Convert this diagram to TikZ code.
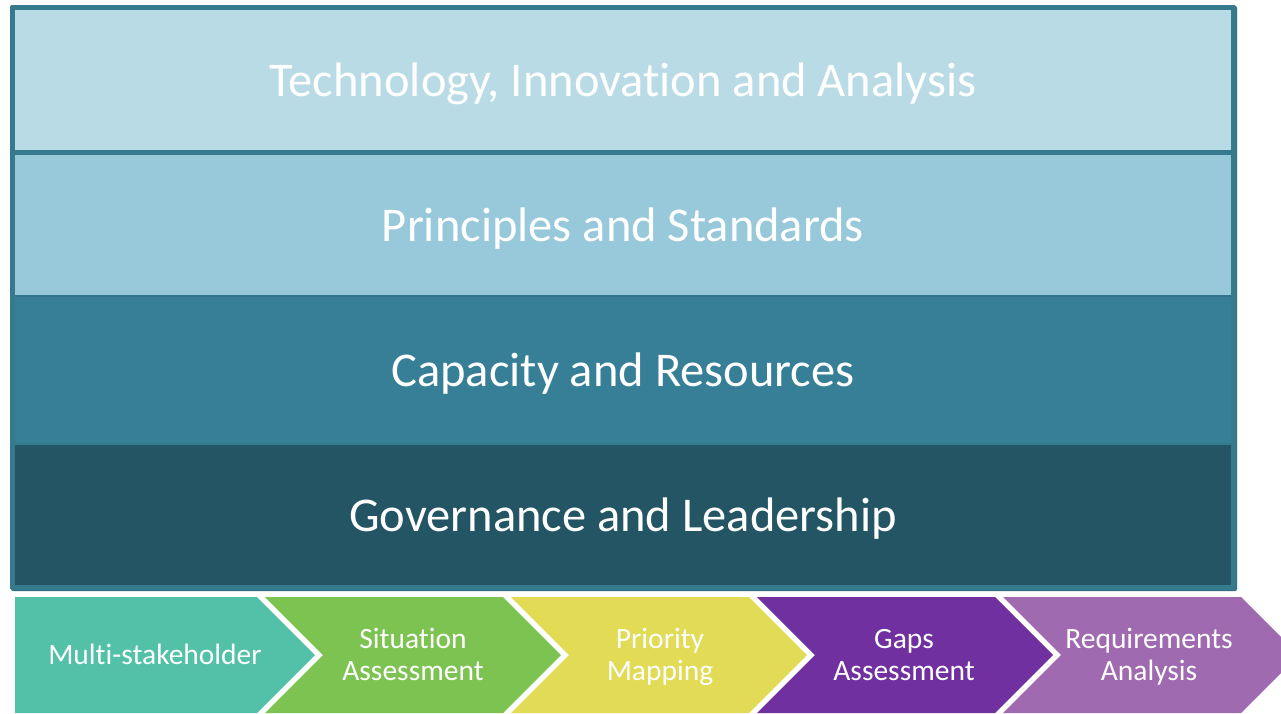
\documentclass[tikz,border=0pt]{standalone}
\usepackage{fontspec}
\setmainfont[Ligatures=NoCommon]{Carlito}
\definecolor{frame}{HTML}{367A8D}
\definecolor{bandA}{HTML}{B9DBE6}
\definecolor{bandB}{HTML}{97C9DA}
\definecolor{bandC}{HTML}{367F97}
\definecolor{bandD}{HTML}{245565}
\definecolor{chA}{HTML}{52C1A8}
\definecolor{chB}{HTML}{7DC352}
\definecolor{chC}{HTML}{E1DB55}
\definecolor{chD}{HTML}{7030A0}
\definecolor{chE}{HTML}{A06AB0}
\tikzset{
  bandtext/.style={text=white,font=\fontsize{48.5}{54}\selectfont,inner sep=0pt,anchor=base},
  chevtext/.style={text=white,font=\fontsize{29.5}{32}\selectfont,align=center,inner sep=0pt,anchor=base},
}
\begin{document}
\begin{tikzpicture}[x=1pt,y=-1pt]
\useasboundingbox (0,0) rectangle (1281,713);
\fill[white] (0,0) rectangle (1281,713);
% frame
\fill[frame!90!black,rounded corners=2pt] (11,6) rectangle (1237,591);
\fill[frame,rounded corners=2pt] (10,5) rectangle (1236,590);
\fill[bandA] (15,10) rectangle (1231,150);
\fill[bandB] (15,155) rectangle (1231,295);
\fill[bandC!92!black] (15,295) rectangle (1231,297);
\fill[bandC] (15,297) rectangle (1231,443);
\fill[bandD] (15,445) rectangle (1231,585);
\node[bandtext] (t1) at (623,96) {Technology, Innovation and Analysis};
\node[bandtext] (t2) at (623,241) {Principles and Standards};
\node[bandtext] (t3) at (623,386) {Capacity and Resources};
\node[bandtext] (t4) at (623,531) {Governance and Leadership};
% chevrons
\fill[chA] (15,597) -- (257,597) -- (315,655) -- (257,713) -- (15,713) -- cycle;
\fill[chB] (265,597) -- (503,597) -- (561,655) -- (503,713) -- (265,713) -- (323,655) -- cycle;
\fill[chC] (511,597) -- (749,597) -- (807,655) -- (749,713) -- (511,713) -- (569,655) -- cycle;
\fill[chD] (757,597) -- (995,597) -- (1053,655) -- (995,713) -- (757,713) -- (815,655) -- cycle;
\fill[chE] (1003,597) -- (1241,597) -- (1299,655) -- (1241,713) -- (1003,713) -- (1061,655) -- cycle;
\node[chevtext] (c1) at (155,664) {Multi-stakeholder};
\node[chevtext] (c2) at (413,680) {Situation\\Assessment};
\node[chevtext] (c3) at (660,680) {Priority\\Mapping};
\node[chevtext] (c4) at (904,680) {Gaps\\Assessment};
\node[chevtext] (c5) at (1149,680) {Requirements\\Analysis};
\end{tikzpicture}
\end{document}
